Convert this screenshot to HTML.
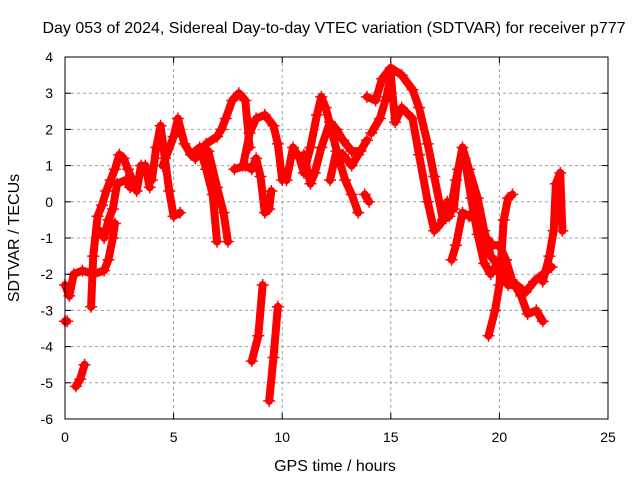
<!DOCTYPE html>
<html><head><meta charset="utf-8"><style>
body{margin:0;background:#fff;}
svg text{font-family:"Liberation Sans",sans-serif;font-size:14px;fill:#000;}
svg text.big{font-size:16px;}
</style></head><body>
<svg id="chart" width="640" height="480" xmlns="http://www.w3.org/2000/svg">
<rect width="640" height="480" fill="#fff"/>
<text class="big" x="334" y="33" text-anchor="middle">Day 053 of 2024, Sidereal Day-to-day VTEC variation (SDTVAR) for receiver p777</text>
<g id="grid"></g>
<g id="marks"></g>
<rect x="65" y="57" width="543" height="362" fill="none" stroke="#000" stroke-width="1"/>
<g id="ticks"></g>
<text class="big" x="335" y="471" text-anchor="middle">GPS time / hours</text>
<text class="big" x="19" y="238" text-anchor="middle" transform="rotate(-90 19 238)">SDTVAR / TECUs</text>
</svg>
<script>
const xTicks=[0,5,10,15,20,25];
const yTicks=[4,3,2,1,0,-1,-2,-3,-4,-5,-6];
const trackA=[[0,-2.3],[0.2,-2.6],[0.4,-2.0],[0.8,-1.9],[1.3,-2.0],[1.8,-1.9],[2.0,-1.6],[2.2,-1.0],[2.3,-0.6]];
const trackB=[[1.2,-2.9],[1.3,-1.5],[1.5,-0.4],[1.7,-0.1],[1.9,0.3],[2.1,0.6],[2.3,0.9],[2.5,1.3],[2.7,1.2],[2.9,0.9],[3.1,0.6],[3.3,0.3],[3.5,1.0],[3.7,1.0],[3.9,0.4]];
const trackB2=[[1.6,-0.8],[1.8,-1.0],[2.0,-0.5],[2.2,-0.2],[2.4,0.5],[2.8,0.6],[3.0,0.4]];
const trackC=[[4.0,0.6],[4.2,1.5],[4.4,2.1],[4.6,1.2],[4.8,0.3],[5.0,-0.4],[5.3,-0.3]];
const trackD=[[4.5,1.0],[5.0,1.8],[5.2,2.3],[5.5,1.6],[5.8,1.3],[6.2,1.5],[6.5,0.9],[6.8,0.2],[7.0,-1.1]];
const trackE=[[6.0,1.2],[6.5,1.6],[7.0,1.8],[7.2,2.0],[7.4,2.3],[7.7,2.8],[8.0,3.0],[8.3,2.8],[8.5,1.5]];
const trackE2=[[6.6,1.4],[7.0,0.4],[7.3,-0.3],[7.5,-1.1]];
const trackF=[[8.2,1.0],[8.5,1.9],[8.8,2.3],[9.2,2.4],[9.6,2.1],[9.8,1.6],[10.0,0.6]];
const trackG=[[7.8,0.9],[8.3,1.0],[8.6,0.9],[8.8,1.2],[9.0,0.7],[9.2,-0.3],[9.4,-0.2],[9.5,0.3]];
const trackH=[[8.6,-4.4],[8.9,-3.7],[9.1,-2.3]];
const trackI=[[9.4,-5.5],[9.6,-4.3],[9.8,-2.9]];
const trackJ=[[0.5,-5.1],[0.7,-4.9],[0.9,-4.5]];
const trackK=[[0,-3.3],[0.1,-3.3]];
const trackL=[[10.2,0.6],[10.5,1.5],[10.8,1.2],[11.0,0.8],[11.3,1.5],[11.6,2.4],[11.8,2.9],[12.0,2.6],[12.3,1.9],[12.6,1.2],[12.9,0.6],[13.2,0.2],[13.5,-0.3]];
const trackM=[[11.0,1.3],[11.3,0.5],[11.5,0.8],[11.8,1.5],[12.2,2.2],[12.5,2.0],[12.8,1.7],[13.2,1.4],[13.6,1.4],[13.9,1.7]];
const trackN=[[12.2,0.6],[12.5,1.4],[12.8,1.3],[13.2,1.0],[13.5,1.3]];
const trackN2=[[13.8,0.2],[14.0,0.0]];
const trackO=[[13.9,2.9],[14.3,2.8],[14.6,3.4],[15.0,3.7],[15.5,3.5],[16.0,3.1],[16.3,2.6],[16.7,1.6],[17.0,0.7],[17.4,-0.5],[17.7,-0.4],[18.0,0.6],[18.3,1.5],[18.6,0.9],[19.0,0.1],[19.3,-0.8],[19.6,-1.5],[20.0,-1.8],[20.4,-2.3],[20.8,-2.3],[21.2,-2.5],[21.6,-2.2],[22.0,-2.0],[22.4,-1.8]];
const trackP=[[14.1,1.9],[14.5,2.3],[14.8,2.9],[15.0,3.5],[15.2,2.2],[15.5,2.6],[16.0,2.3],[16.3,1.3],[16.7,0.0],[17.0,-0.8],[17.3,-0.6],[17.6,0.0],[17.9,-0.2],[18.1,0.9],[18.4,1.2],[18.7,0.1],[19.0,-0.9],[19.3,-1.7],[19.6,-2.0],[20.0,-1.6],[20.4,-2.0]];
const trackQ=[[17.8,-1.6],[18.0,-1.2],[18.3,-0.3],[18.6,-0.4],[19.0,-0.5],[19.4,-1.0],[19.7,-1.2],[20.0,-1.2],[20.3,-1.6],[20.6,-2.2],[21.0,-2.6],[21.3,-3.1],[21.7,-3.0],[22.0,-3.3]];
const trackR=[[19.5,-3.7],[19.8,-3.0],[20.0,-2.3],[20.2,-0.5],[20.4,0.1],[20.6,0.2]];
const trackS=[[22.0,-2.2],[22.3,-1.5],[22.5,-0.8],[22.6,0.5],[22.8,0.8],[22.9,-0.8]];
const tracks=[trackA,trackB,trackB2,trackC,trackD,trackE,trackE2,trackF,trackG,trackH,trackI,trackJ,trackK,trackL,trackM,trackN,trackN2,trackO,trackP,trackQ,trackR,trackS];

const NS="http://www.w3.org/2000/svg";
const X0=65,X1=608,Y0=57,Y1=419;
const sx=t=>X0+(t-0)/(25-0)*(X1-X0);
const sy=v=>Y1-(v-(-6))/(4-(-6))*(Y1-Y0);
function mk(tag,attrs,parent){const e=document.createElementNS(NS,tag);for(const k in attrs)e.setAttribute(k,attrs[k]);parent.appendChild(e);return e;}
const grid=document.getElementById('grid'),ticks=document.getElementById('ticks'),marks=document.getElementById('marks');
xTicks.forEach(t=>{
  const x=sx(t);
  if(t>0&&t<25){const g=mk('line',{x1:x,x2:x,y1:Y0,y2:Y1,stroke:'#a0a0a0','stroke-dasharray':'3,3'},grid);
  
  }
  mk('line',{x1:x,x2:x,y1:Y1,y2:Y1-6,stroke:'#000'},ticks);
  mk('line',{x1:x,x2:x,y1:Y0,y2:Y0+6,stroke:'#000'},ticks);
  const l=mk('text',{x:x,y:442,'text-anchor':'middle'},ticks);l.textContent=t;
  
  
});
yTicks.forEach(v=>{
  const y=sy(v);
  if(v>-6&&v<4){const g=mk('line',{x1:X0,x2:X1,y1:y,y2:y,stroke:'#a0a0a0','stroke-dasharray':'3,3'},grid);
  
  }
  mk('line',{x1:X0,x2:X0+6,y1:y,y2:y,stroke:'#000'},ticks);
  mk('line',{x1:X1,x2:X1-6,y1:y,y2:y,stroke:'#000'},ticks);
  const l=mk('text',{x:53,y:y+5,'text-anchor':'end'},ticks);l.textContent=v;
  
  
});
tracks.forEach(tr=>{
  const pts=tr.map(p=>sx(p[0])+','+sy(p[1])).join(' ');
  const pl=mk('polyline',{points:pts,fill:'none',stroke:'#ff0000','stroke-width':8,'stroke-linejoin':'round','stroke-linecap':'round'},marks);
  
  
  tr.forEach(p=>{
    const x=sx(p[0]),y=sy(p[1]);
    const c=mk('path',{d:`M${x-6},${y}H${x+6}M${x},${y-6}V${y+6}`,stroke:'#ff0000','stroke-width':1.5},marks);
    
    
  });
});
</script>
</body></html>
